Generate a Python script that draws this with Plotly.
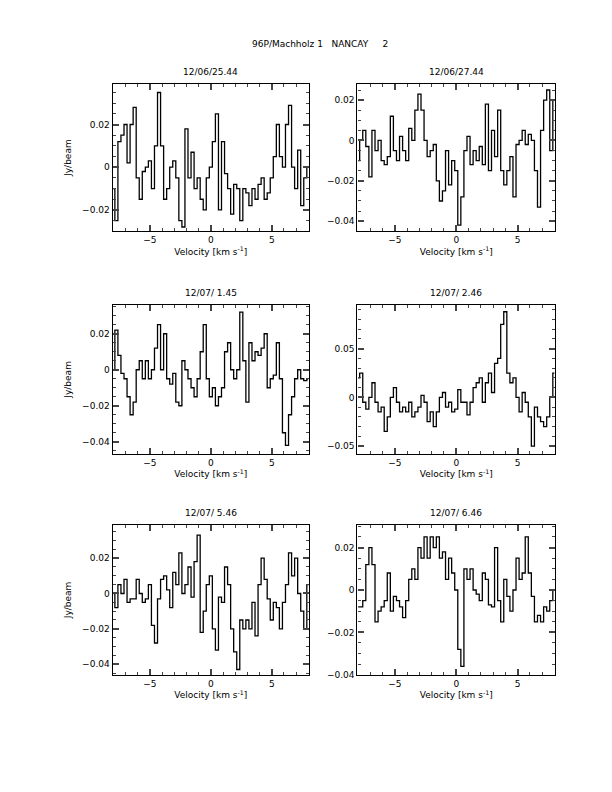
import numpy as np
import plotly.graph_objects as go

titles = ["12/06/25.44", "12/06/27.44", "12/07/ 1.45", "12/07/ 2.46", "12/07/ 5.46", "12/07/ 6.46"]
p1 = [-10,-25,12,15,20,2,20,28,-5,-15,-2,0,3,-10,10,35,10,-15,-10,0,3,-5,-25,-28,18,-5,7,-10,-5,-15,-20,-5,0,12,25,-20,12,-3,-10,-22,-8,-10,-25,-10,-12,-18,-10,-15,-8,-5,-15,-12,-5,5,20,5,0,20,29,0,-10,8,-18,-5,0]
p2 = [-10,0,5,-3,-18,5,-5,0,-10,-12,-8,12,-5,-10,2,-5,-10,6,0,15,23,15,0,-8,-5,-2,-20,-30,-25,-5,-22,-10,-15,-42,-28,-5,2,-12,-5,-10,-3,-12,18,-15,5,-8,15,-15,-22,-15,-8,-28,-2,0,5,-2,3,0,-15,-33,5,20,25,-5,20]
p3 = [0,22,8,-2,-5,-15,-25,-18,0,5,-5,5,-5,0,12,25,0,20,-5,-8,-2,-18,-20,5,0,-5,-10,-15,-5,10,25,-5,-15,-10,-20,-15,-10,10,15,0,-5,0,32,5,-18,15,5,10,8,12,20,-10,-5,-3,15,-5,-35,-42,-25,-15,-5,0,-5,-6,-5]
p4 = [20,25,-5,-12,0,15,-5,-15,-10,-35,-20,0,10,-5,-15,-10,-15,-5,-20,-15,-10,2,-5,-25,-15,-30,-15,0,5,-10,-5,-15,-12,8,-5,-5,-18,-5,10,15,20,-5,15,25,5,35,40,75,88,25,15,20,0,-15,5,-5,-20,-50,-10,-20,-25,-30,-20,0,25]
p5 = [0,-8,5,0,8,-5,-3,-3,8,0,-5,-3,5,-18,-28,-3,8,10,2,-8,12,5,23,0,5,15,-2,18,33,-22,-10,5,10,-20,-32,-2,-5,15,5,-20,-33,-43,-15,-20,-15,-20,-5,-24,5,20,8,-3,-15,-5,-8,-20,-5,5,23,10,20,0,-10,-20,5]
p6 = [-8,-8,-5,12,20,12,-15,-10,-8,-5,8,-10,-3,-5,-8,-13,-5,5,10,5,20,15,25,15,25,20,25,15,18,5,15,8,0,-28,-36,10,5,10,0,-2,-5,8,5,-7,-8,20,-5,-15,5,-3,-10,0,15,5,8,25,8,-3,-15,-12,-15,-8,-10,-5,0]
series = [p1, p2, p3, p4, p5, p6]
yranges = [[-0.030, 0.039], [-0.045, 0.028], [-0.0467, 0.036], [-0.058, 0.095], [-0.046, 0.0387], [-0.040, 0.0306]]
ydticks = [0.02, 0.02, 0.02, 0.05, 0.02, 0.02]
yminor = [0.005, 0.005, 0.005, 0.01, 0.005, 0.005]

dx, dy = 8 / 612, 8 / 792
xdoms = [[0.184 - dx, 0.505 - dx], [0.584 - dx, 0.907 - dx]]
ydoms = [[0.708 + dy, 0.894 + dy], [0.427 + dy, 0.615 + dy], [0.148 + dy, 0.337 + dy]]
font = dict(family="DejaVu Sans", size=9, color="black")

fig = go.Figure()
ann = []
for i, s in enumerate(series):
    r, c = divmod(i, 2)
    n = len(s)
    x = np.linspace(-8, 8, n)
    y = np.array(s) / 1000.0
    k = "" if i == 0 else str(i + 1)
    fig.add_trace(go.Scatter(x=x, y=y, mode="lines", line=dict(color="black", width=1.3, shape="hvh"),
                             xaxis="x" + k, yaxis="y" + k, showlegend=False))
    fig.layout["xaxis" + k] = dict(domain=xdoms[c], anchor="y" + k, range=[-8.06, 8.06], dtick=5, tick0=0,
        ticks="inside", ticklen=6, tickwidth=1.5, mirror="allticks", showline=True, linecolor="black", linewidth=1.2,
        showgrid=False, zeroline=False, tickfont=font, automargin=False,
        minor=dict(dtick=1, ticks="inside", ticklen=3, tickwidth=1.2, showgrid=False),
        title=dict(text="Velocity [km s<sup>-1</sup>]", font=font, standoff=2))
    fig.layout["yaxis" + k] = dict(domain=ydoms[r], anchor="x" + k, range=yranges[i], dtick=ydticks[i], tick0=0,
        ticks="inside", ticklen=6, tickwidth=1.5, mirror="allticks", showline=True, linecolor="black", linewidth=1.2,
        showgrid=False, zeroline=False, tickfont=font, tickformat="~g", automargin=False,
        minor=dict(dtick=yminor[i], ticks="inside", ticklen=3, tickwidth=1.2, showgrid=False),
        title=dict(text="Jy/beam" if c == 0 else "", font=font, standoff=8))
    ann.append(dict(text=titles[i], x=sum(xdoms[c]) / 2, y=ydoms[r][1] + 0.006, xref="paper", yref="paper",
                    xanchor="center", yanchor="bottom", showarrow=False, font=font))
ann.append(dict(text="96P/Machholz 1   NANCAY     2", x=0.523 - dx, y=1 - 44 / 792 + dy, xref="paper", yref="paper",
                xanchor="center", yanchor="middle", showarrow=False, font=font))
fig.update_layout(width=612, height=792, margin=dict(l=0, r=0, t=0, b=0), paper_bgcolor="white",
                  plot_bgcolor="white", annotations=ann)
fig.write_html("out.html")
